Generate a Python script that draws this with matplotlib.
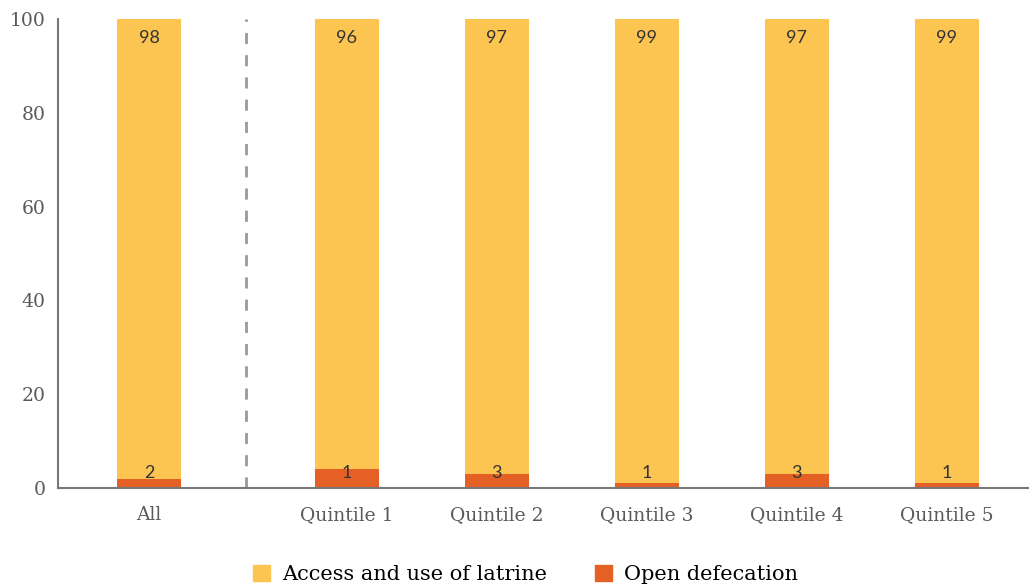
import matplotlib
matplotlib.use("Agg")
import matplotlib.pyplot as plt
from matplotlib.patches import Patch

categories = ["All", "Quintile 1", "Quintile 2", "Quintile 3", "Quintile 4", "Quintile 5"]
latrine = [98, 96, 97, 99, 97, 99]
open_def = [2, 4, 3, 1, 3, 1]
open_def_labels = ["2", "1", "3", "1", "3", "1"]
yticks = [0, 20, 40, 60, 80, 100]

yellow = "#FCC551"
orange = "#E56024"

fig = plt.figure(figsize=(10.29, 5.85), dpi=100)
ax = fig.add_axes([0.0564, 0.1658, 0.9436, 0.8017])

x = [0] + [1.32 + i for i in range(5)]
w = 0.427
ax.bar(x, open_def, width=w, color=orange, zorder=2)
ax.bar(x, latrine, width=w, bottom=open_def, color=yellow, zorder=2)

for xi, v, lab in zip(x, latrine, open_def_labels):
    ax.text(xi, 96, str(v), ha="center", va="center", fontsize=13,
            family="Lato", color="#333333", zorder=3)
    ax.text(xi, 3.3, lab, ha="center", va="center", fontsize=13,
            family="Lato", color="#333333", zorder=3)

ax.axvline(0.647, color="#999999", linestyle=(0, (4, 4)), linewidth=2, zorder=1)

ax.set_xlim(-0.607, 5.87)
ax.set_ylim(0, 100)
ax.set_xticks(x)
ax.set_xticklabels(categories, family="DejaVu Serif", fontsize=13.5, color="#5a5a5a")
ax.set_yticks(yticks)
ax.set_yticklabels([str(t) for t in yticks], family="DejaVu Serif", fontsize=13.5, color="#5a5a5a")
ax.tick_params(axis="x", length=0, pad=13)
ax.tick_params(axis="y", length=0, pad=9)
for s in ["top", "right"]:
    ax.spines[s].set_visible(False)
ax.spines["left"].set_color("#777777")
ax.spines["bottom"].set_color("#777777")
ax.spines["left"].set_linewidth(1.5)
ax.spines["bottom"].set_linewidth(1.5)

handles = [Patch(color=yellow, label="Access and use of latrine"),
           Patch(color=orange, label="Open defecation")]
fig.legend(handles=handles, loc="center", bbox_to_anchor=(0.511, 0.018), ncol=2,
           frameon=False, prop={"family": "DejaVu Serif", "size": 15},
           handlelength=0.8, handleheight=0.8, columnspacing=2.3, handletextpad=0.6)

fig.savefig("out.png", dpi=100)
